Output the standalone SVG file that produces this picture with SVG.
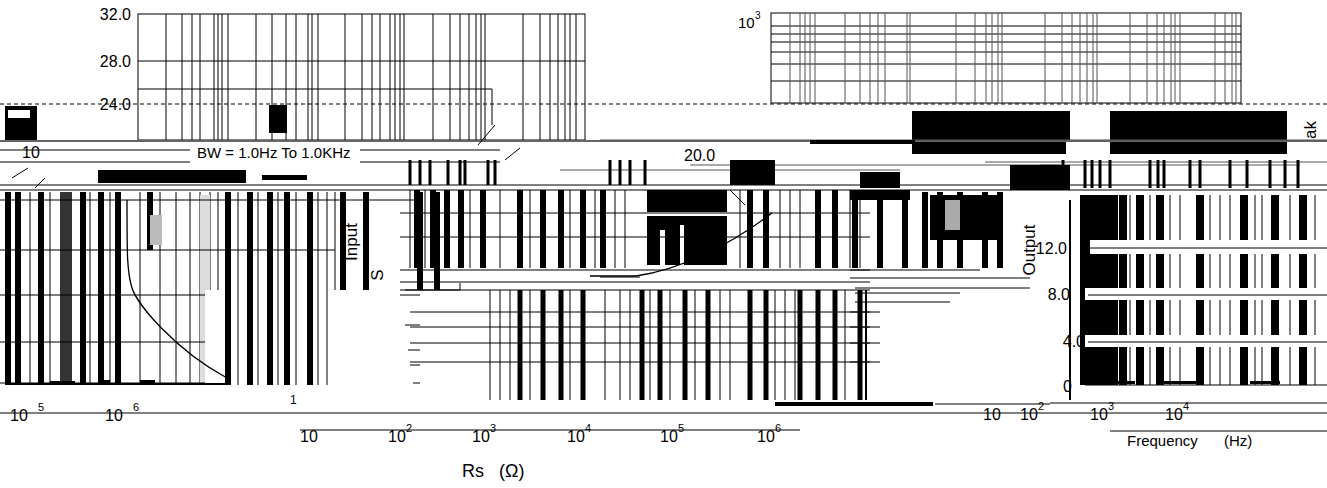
<svg xmlns="http://www.w3.org/2000/svg" width="1327" height="488" viewBox="0 0 1327 488">
<style>
.t{font-family:"Liberation Sans",Arial,sans-serif;fill:#000;}
.g{stroke:#000;stroke-width:1;fill:none;}
.gg{stroke:#555;stroke-width:1;fill:none;}
.d{stroke:#000;stroke-width:1;stroke-dasharray:4 3;fill:none;}
.b{fill:#000;}
.c{stroke:#000;stroke-width:1.3;fill:none;}
</style>
<rect width="1327" height="488" fill="#fff"/>
<!-- top-left grid -->
<g id="grid-tl">
<rect x="138" y="14" width="447" height="126" class="g"/>
<line x1="138" y1="61" x2="585" y2="61" class="g"/>
<path d="M138 89 H492 V125" class="g"/>
<path d="M166 14V140M182 14V140M192 14V140M200 14V140M214 14V140M218 14V140M222 14V140M228 14V140M256 14V140M272 14V140M286 14V140M296 14V140M308 14V140M312 14V140M318 14V140M345 14V140M362 14V140M372 14V140M380 14V140M390 14V140M395 14V140M400 14V140M404 14V140M433 14V140M450 14V140M460 14V140M469 14V140M476 14V140M481 14V140M485 14V140M523 14V140M540 14V140M550 14V140M558 14V140M565 14V140M570 14V140M576 14V140" class="g"/>
</g>
<!-- top-right grid -->
<g id="grid-tr">
<rect x="771" y="13" width="470" height="90" class="g"/>
<path d="M771 26H1241M771 34H1241M771 42H1241M771 52H1241M771 64H1241M771 81H1241" class="g"/>
<path d="M790 13V103M800 13V103M805 13V103M810 13V103M815 13V103M845 13V103M860 13V103M870 13V103M878 13V103M885 13V103M907 13V103M910 13V103M956 13V103M975 13V103M986 13V103M992 13V103M998 13V103M1002 13V103M1045 13V103M1062 13V103M1072 13V103M1080 13V103M1087 13V103M1093 13V103M1097 13V103M1130 13V103M1147 13V103M1157 13V103M1164 13V103M1171 13V103M1175 13V103M1180 13V103M1215 13V103M1225 13V103M1232 13V103M1236 13V103" class="gg"/>
</g>
<line x1="0" y1="104" x2="1327" y2="104" class="d"/>
<!-- top band blocks -->
<g id="band">
<rect x="5" y="106" width="32" height="35" class="b"/>
<rect x="8" y="110" width="22" height="8" fill="#fff"/>
<rect x="269" y="105" width="18" height="28" class="b"/>
<rect x="912" y="111" width="154" height="43" class="b"/>
<rect x="1110" y="111" width="177" height="43" class="b"/>
<rect x="1066" y="111" width="4" height="30" class="b"/>
<rect x="98" y="170" width="148" height="13" class="b"/>
<rect x="262" y="175" width="45" height="5" class="b"/>
<rect x="0" y="140" width="1327" height="2" fill="#666"/>
<path d="M0 150H190M360 150H500M0 162H190M360 162H500M0 185H1327M0 190H1327" class="g"/>
<path d="M600 140 H1327M690 165H1060M560 170H900M985 162H1327M1040 165H1300" class="gg"/>
<rect x="810" y="140" width="105" height="4" class="b"/>
<rect x="730" y="160" width="45" height="25" class="b"/>
<rect x="1010" y="165" width="60" height="25" class="b"/>
<rect x="860" y="172" width="40" height="16" class="b"/>
<path d="M410 160V185M420 160V185M430 160V185M448 160V185M460 160V185M465 160V185M488 160V185M495 160V185M610 160V185M620 160V185M630 160V185M645 160V185M1063 160V188M1085 160V188M1092 160V188M1100 160V188M1110 160V188M1150 160V188M1158 160V188M1164 160V188M1190 160V188M1200 160V188M1230 160V188M1247 160V188M1270 160V188M1285 160V188M1298 160V188" stroke="#000" stroke-width="3"/>
<path d="M495 125 L478 145M520 148 L505 160M12 178 L28 168M35 188 L45 178M730 190 L745 205" class="g"/>
</g>
<!-- left lower region bars -->
<g id="left-region">
<path d="M8 192V385M18 192V385M41 192V385M64 192V385M83 192V385M101 192V385M118 192V385M150 192V250M228 192V385M250 192V385M270 192V385M287 192V385M310 192V385" stroke="#000" stroke-width="6"/>
<path d="M343 192V290M366 192V290M420 192V290M437 192V290" stroke="#000" stroke-width="6"/>
<path d="M30 192V385M50 192V385M90 192V385M110 192V385M140 192V385M160 192V385M176 192V385M190 192V385M200 192V385M210 192V385M218 192V385M238 192V385M258 192V385M278 192V385M296 192V385M318 192V385M327 192V385M335 192V290" class="g"/>
<rect x="60" y="192" width="12" height="193" fill="#333"/>
<rect x="150" y="215" width="12" height="30" fill="#bbb"/>
<rect x="200" y="195" width="10" height="190" fill="#ddd"/>
<path d="M0 200H420M0 250H335M0 295H210M0 342H220M0 383H230" class="g"/>
<rect x="205" y="290" width="20" height="100" fill="#fff"/>
<rect x="330" y="290" width="75" height="110" fill="#fff"/>
<rect x="8" y="384" width="220" height="3" fill="#fff"/>
<path d="M5 384H228" stroke="#000" stroke-width="2"/>
<path d="M50 384h25v-3h-25zM100 384h10v-4h-10zM140 384h15v-4h-15z" class="b"/>
<path d="M400 295H420M405 325H420M408 350H420M410 365H420M413 383H420" class="g"/>
</g>
<!-- middle region -->
<g id="mid-region">
<path d="M417 190V268M433 190V268M447 190V268M461 190V268M483 190V268M520 190V268M543 190V268M561 190V268M583 190V268M603 190V268M750 190V268M766 190V268M818 190V268M835 190V268" stroke="#000" stroke-width="6"/>
<rect x="647" y="190" width="80" height="75" class="b"/>
<rect x="647" y="212" width="80" height="4" fill="#fff"/>
<rect x="660" y="230" width="5" height="35" fill="#fff"/>
<rect x="680" y="225" width="4" height="40" fill="#fff"/>
<path d="M410 190V268M425 190V268M470 190V268M500 190V268M530 190V268M570 190V268M595 190V268M615 190V268M625 190V268M740 190V268M780 190V268M790 190V268M800 190V268M850 190V268M860 190V268" class="g"/>
<path d="M400 213H870M400 237H870M400 270H870M400 282H870M400 290H870M410 312H870M410 327H870M410 343H870M410 362H870" class="g"/>
<path d="M520 290V400M543 290V400M561 290V400M583 290V400M642 290V400M660 290V400M685 290V400M708 290V400M750 290V400M766 290V400M800 290V400M818 290V400M835 290V400M860 290V400" stroke="#000" stroke-width="5"/>
<path d="M490 290V400M500 290V400M510 290V400M530 290V400M570 290V400M605 290V400M620 290V400M630 290V400M650 290V400M670 290V400M695 290V400M720 290V400M730 290V400M775 290V400M785 290V400M795 290V400M845 290V400" class="g"/>
<path d="M405 290H460V283M600 277H640" class="g"/>
</g>
<!-- transition region -->
<g id="right-left-region">
<path d="M855 192V268M880 192V268M905 192V268M925 192V268M940 192V268M960 192V268M985 192V268M1000 192V268" stroke="#000" stroke-width="6"/>
<rect x="850" y="190" width="60" height="10" class="b"/>
<rect x="930" y="195" width="70" height="45" class="b"/>
<rect x="945" y="200" width="15" height="30" fill="#aaa"/>
<path d="M850 270H980M850 278H1030M855 288H1030M855 293H960M855 302H950" class="g"/>
<path d="M860 290V400M866 290V400" stroke="#000" stroke-width="2"/>
<path d="M850 312H880M850 327H880M850 343H880M850 362H880" class="g"/>
</g>
<!-- right chart -->
<g id="right-chart">
<rect x="1080" y="195" width="38" height="190" class="b"/>
<path d="M1123 195V385M1140 195V385M1160 195V385M1200 195V385M1244 195V385M1275 195V385M1303 195V385" stroke="#000" stroke-width="8"/>
<path d="M1130 195V385M1150 195V385M1170 195V385M1180 195V385M1210 195V385M1220 195V385M1230 195V385M1255 195V385M1262 195V385M1290 195V385M1315 195V385" class="g"/>
<rect x="1090" y="240" width="237" height="14" fill="#fff"/>
<rect x="1085" y="288" width="242" height="12" fill="#fff"/>
<rect x="1085" y="335" width="242" height="12" fill="#fff"/>
<path d="M1085 248H1327M1088 295H1327M1088 342H1327M1085 385H1327" class="g"/>
<path d="M1070 200V400" stroke="#000" stroke-width="2"/>
<path d="M1085 384h50v-3h-50zM1160 384h40v-3h-40zM1250 384h30v-3h-30z" class="b"/>
</g>
<!-- axes lines -->
<g id="axes">
<path d="M0 413H1327" class="g"/>
<path d="M300 430H800" class="g"/>
<rect x="775" y="402" width="158" height="4" class="b"/>
<path d="M935 404H1050M1050 403H1327M1110 431H1327" class="g"/>
</g>
<!-- curves -->
<g id="curves">
<path d="M127 200 C127 255 127 272 132 288 S175 350 227 378" class="c"/>
<path d="M590 276 L636 276 C680 270 730 245 772 213" class="c"/>
</g>
<!-- texts -->
<g id="labels">
<text class="t" x="131" y="20" font-size="16" text-anchor="end">32.0</text>
<text class="t" x="131" y="67" font-size="16" text-anchor="end">28.0</text>
<text class="t" x="131" y="110" font-size="16" text-anchor="end">24.0</text>
<text class="t" x="22" y="158" font-size="16">10</text>
<text class="t" x="197" y="158" font-size="15">BW = 1.0Hz To 1.0KHz</text>
<text class="t" x="684" y="161" font-size="16">20.0</text>
<text class="t" x="738" y="28" font-size="15">10</text>
<text class="t" x="755" y="19" font-size="10">3</text>
<text class="t" x="1067" y="254" font-size="16" text-anchor="end">12.0</text>
<text class="t" x="1070" y="300" font-size="16" text-anchor="end">8.0</text>
<text class="t" x="1085" y="347" font-size="16" text-anchor="end">4.0</text>
<text class="t" x="1072" y="392" font-size="16" text-anchor="end">0</text>
<text class="t" x="1035" y="250" font-size="17" text-anchor="middle" transform="rotate(-90 1035 250)">Output</text>
<text class="t" x="357" y="242" font-size="17" text-anchor="middle" transform="rotate(-90 357 242)">Input</text>
<text class="t" x="383" y="275" font-size="17" text-anchor="middle" transform="rotate(-90 383 275)">S</text>
<text class="t" x="1316" y="130" font-size="17" text-anchor="middle" transform="rotate(-90 1316 130)">ak</text>
<text class="t" x="10" y="421" font-size="16">10</text>
<text class="t" x="38" y="411" font-size="11">5</text>
<text class="t" x="105" y="421" font-size="16">10</text>
<text class="t" x="133" y="411" font-size="11">6</text>
<text class="t" x="290" y="404" font-size="12">1</text>
<text class="t" x="300" y="442" font-size="16">10</text>
<text class="t" x="388" y="442" font-size="16">10</text>
<text class="t" x="406" y="432" font-size="11">2</text>
<text class="t" x="472" y="442" font-size="16">10</text>
<text class="t" x="490" y="432" font-size="11">3</text>
<text class="t" x="567" y="442" font-size="16">10</text>
<text class="t" x="585" y="432" font-size="11">4</text>
<text class="t" x="660" y="442" font-size="16">10</text>
<text class="t" x="678" y="432" font-size="11">5</text>
<text class="t" x="757" y="442" font-size="16">10</text>
<text class="t" x="775" y="432" font-size="11">6</text>
<text class="t" x="983" y="420" font-size="16">10</text>
<text class="t" x="1020" y="420" font-size="16">10</text>
<text class="t" x="1038" y="410" font-size="11">2</text>
<text class="t" x="1090" y="420" font-size="16">10</text>
<text class="t" x="1108" y="410" font-size="11">3</text>
<text class="t" x="1165" y="420" font-size="16">10</text>
<text class="t" x="1183" y="410" font-size="11">4</text>
<text class="t" x="1127" y="446" font-size="15">Frequency</text>
<text class="t" x="1224" y="446" font-size="15">(Hz)</text>
<text class="t" x="462" y="477" font-size="18">Rs</text>
<text class="t" x="499" y="477" font-size="18">(Ω)</text>
</g>
</svg>
